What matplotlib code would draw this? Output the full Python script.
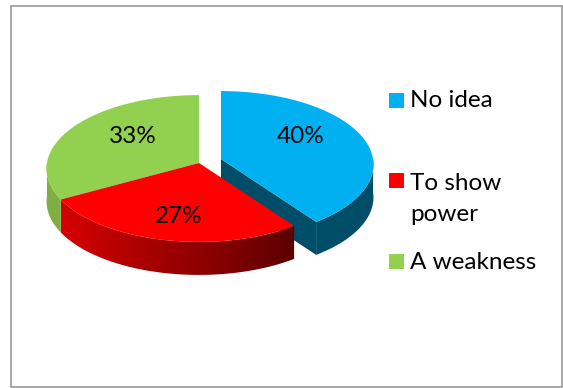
import numpy as np
import matplotlib
matplotlib.use("Agg")
import matplotlib.pyplot as plt
from matplotlib.patches import Rectangle, Polygon

plt.rcParams['font.family'] = ['Lato', 'DejaVu Sans']

labels = ["No idea", "To show\npower", "A weakness"]
values = [40, 27, 33]
top_colors = ["#00b0f0", "#ff0000", "#92d050"]
wall_colors = ["#004d68", None, "#7fae45"]
label_pos = [(300.5, 136.5), (178.5, 216.5), (133, 136.5)]
legend_y = [100.5, 180.5, 261.5]
text_base = [107, 221, 269]

# pie geometry in pixels
cx, cy = 199, 163
rx, ry = 152, 73
persp = 0.075
depth = 33
blue_shift = (22, -4)


def project(deg):
    t = np.radians(deg)
    s = 1 / (1 + persp * np.cos(t))
    return cx + rx * np.sin(t) * s, cy - ry * np.cos(t) * s


fig = plt.figure(figsize=(5.63, 3.88), dpi=100)
ax = fig.add_axes([0, 0, 1, 1])
ax.set_xlim(0, 563)
ax.set_ylim(388, 0)
ax.axis("off")

ax.add_patch(Rectangle((11, 5.5), 551, 381.5, fc="white", ec="#8f8f8f", lw=1.1))

ends = np.cumsum(values) / sum(values) * 360
starts = np.concatenate([[0], ends[:-1]])

# back to front: blue, green, red
for i in [0, 2, 1]:
    a0, a1 = starts[i], ends[i]
    ox, oy = blue_shift if i == 0 else (0, 0)
    z = 2 + [0, 2, 1][i]

    # flat cut face of the pulled out slice
    if i == 0:
        ex, ey = project(a1)
        ax.fill([cx + ox, ex + ox, ex + ox, cx + ox],
                [cy + oy, ey + oy, ey + oy + depth, cy + oy + depth],
                color=wall_colors[i], lw=0, zorder=z)

    # outer wall, only the part facing the viewer
    angles = np.linspace(max(a0, 90), min(a1, 270), 160)
    wx, wy = project(angles)
    wall_x = np.r_[wx, wx[::-1]] + ox
    wall_y = np.r_[wy, wy[::-1] + depth] + oy
    if wall_colors[i]:
        ax.fill(wall_x, wall_y, color=wall_colors[i], lw=0, zorder=z)
    else:
        # red wall fades from left to right
        xs = np.arange(wall_x.min(), wall_x.max() + 1)
        red = np.interp(xs, [61, 150, 230, 295], [0.84, 0.65, 0.50, 0.36])
        img = np.zeros((1, len(xs), 3))
        img[0, :, 0] = red
        im = ax.imshow(img, extent=(xs[0], xs[-1], wall_y.max(), wall_y.min()),
                       aspect="auto", interpolation="bilinear", zorder=z)
        im.set_clip_path(Polygon(np.c_[wall_x, wall_y], transform=ax.transData))

    # top surface
    angles = np.linspace(a0, a1, 160)
    px, py = project(angles)
    ax.fill(np.r_[cx, px] + ox, np.r_[cy, py] + oy,
            color=top_colors[i], lw=0, zorder=z + 0.5)

ax.set_xlim(0, 563)
ax.set_ylim(388, 0)

for v, (x, y) in zip(values, label_pos):
    ax.text(x, y, f"{v}%", ha="center", va="center", fontsize=17.5, color="black", zorder=10)

for name, c, y, b in zip(labels, top_colors, legend_y, text_base):
    ax.add_patch(Rectangle((389, y - 7.5), 15, 15, fc=c, ec="none"))
    ax.text(410, b, name, ha="left", va="baseline", fontsize=17.5, color="black",
            linespacing=1.58)

fig.savefig("out.png", dpi=100)
